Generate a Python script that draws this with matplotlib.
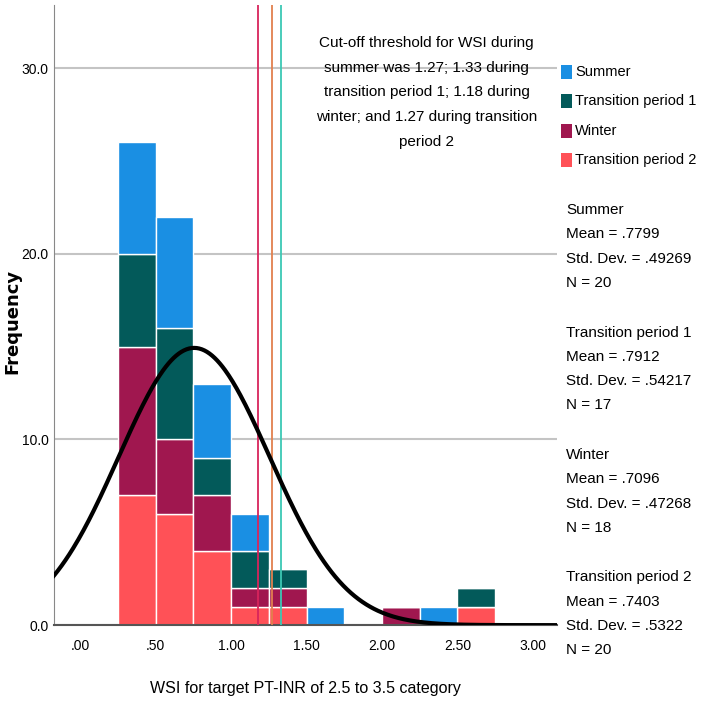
import numpy as np
import matplotlib.pyplot as plt
from matplotlib.patches import Rectangle

plt.rcParams['font.family'] = ['Liberation Sans', 'DejaVu Sans']

# histogram bins (width 0.25) and stacked counts per season
bin_left = [0.25, 0.50, 0.75, 1.00, 1.25, 1.50, 1.75, 2.00, 2.25, 2.50]
tp2 = [7, 6, 4, 1, 1, 0, 0, 0, 0, 1]
winter = [8, 4, 3, 1, 1, 0, 0, 1, 0, 0]
tp1 = [5, 6, 2, 2, 1, 0, 0, 0, 0, 1]
summer = [6, 6, 4, 2, 0, 1, 0, 0, 1, 0]
bin_w = 0.25

# overall normal curve
n_total = 75
mean_all = 0.755
sd_all = 0.501

# cut-off lines
cut_vals = [1.18, 1.27, 1.33]
cut_cols = ['#d8245c', '#e2804e', '#3cc8b4']

series_names = ['Summer', 'Transition period 1', 'Winter', 'Transition period 2']
series_cols = ['#1a8fe3', '#035a5a', '#a0174f', '#ff5157']

stats = [
    ('Summer', '.7799', '.49269', 20),
    ('Transition period 1', '.7912', '.54217', 17),
    ('Winter', '.7096', '.47268', 18),
    ('Transition period 2', '.7403', '.5322', 20),
]

note_lines = ['Cut-off threshold for WSI during', 'summer was 1.27; 1.33 during',
              'transition period 1; 1.18 during', 'winter; and 1.27 during transition',
              'period 2']

W = 704.0
def fy(py):
    return 1 - py / W

fig = plt.figure(figsize=(7.04, 7.04), dpi=100)
ax = fig.add_axes([0.077, 0.112, 0.714, 0.881])

x = np.array(bin_left) + bin_w / 2
b0 = np.zeros(len(bin_left))
layers = [(tp2, series_cols[3]), (winter, series_cols[2]),
          (tp1, series_cols[1]), (summer, series_cols[0])]
for vals, col in layers:
    v = np.array(vals, dtype=float)
    ax.bar(x, v, width=bin_w, bottom=b0, color=col, edgecolor='white',
           linewidth=1.0, zorder=2)
    b0 += v

xs = np.linspace(-0.2, 3.2, 400)
ys = n_total * bin_w / (sd_all * np.sqrt(2 * np.pi)) * np.exp(-0.5 * ((xs - mean_all) / sd_all) ** 2)
ax.plot(xs, ys, color='black', lw=3, zorder=4)

for cv, cc in zip(cut_vals, cut_cols):
    ax.axvline(cv, color=cc, lw=1.3, zorder=3)

ax.set_xlim(-0.173, 3.16)
ax.set_ylim(0, 33.4)
ax.set_yticks([0, 10, 20, 30])
ax.set_yticklabels(['0.0', '10.0', '20.0', '30.0'])
ax.set_xticks([0, 0.5, 1, 1.5, 2, 2.5, 3])
ax.set_xticklabels(['.00', '.50', '1.00', '1.50', '2.00', '2.50', '3.00'])
ax.tick_params(length=0, labelsize=10, pad=10)
ax.tick_params(axis='y', pad=4)
ax.yaxis.grid(True, color='#c4c4c4', lw=1.5, zorder=0)
ax.set_axisbelow(True)
for s in ['top', 'right']:
    ax.spines[s].set_visible(False)
ax.spines['left'].set_color('#888888')
ax.spines['bottom'].set_color('#555555')
ax.spines['bottom'].set_linewidth(1.5)

ax.set_ylabel('Frequency', family='DejaVu Sans', fontweight='bold', fontsize=13)
ax.yaxis.set_label_coords(-0.066, 0.49)
ax.set_xlabel('WSI for target PT-INR of 2.5 to 3.5 category', fontsize=11.5)
ax.xaxis.set_label_coords(0.5, -0.09)

# cut-off note
for i, line in enumerate(note_lines):
    fig.text(426.5 / W, fy(43 + 24.7 * i), line, ha='center', va='center', fontsize=11)

# legend
for i, (name, col) in enumerate(zip(series_names, series_cols)):
    yc = 72 + 29.3 * i
    fig.add_artist(Rectangle((561 / W, fy(yc + 7)), 11 / W, 14 / W,
                             transform=fig.transFigure, facecolor=col, edgecolor='none'))
    fig.text(575 / W, fy(yc), name, ha='left', va='center', fontsize=10.5)

# descriptive statistics
for i, (name, m, sd, n) in enumerate(stats):
    y0 = 210 + 122.5 * i
    for j, line in enumerate([name, f'Mean = {m}', f'Std. Dev. = {sd}', f'N = {n}']):
        fig.text(566 / W, fy(y0 + 24.3 * j), line, ha='left', va='center', fontsize=11)

fig.savefig('out.png', dpi=100)
